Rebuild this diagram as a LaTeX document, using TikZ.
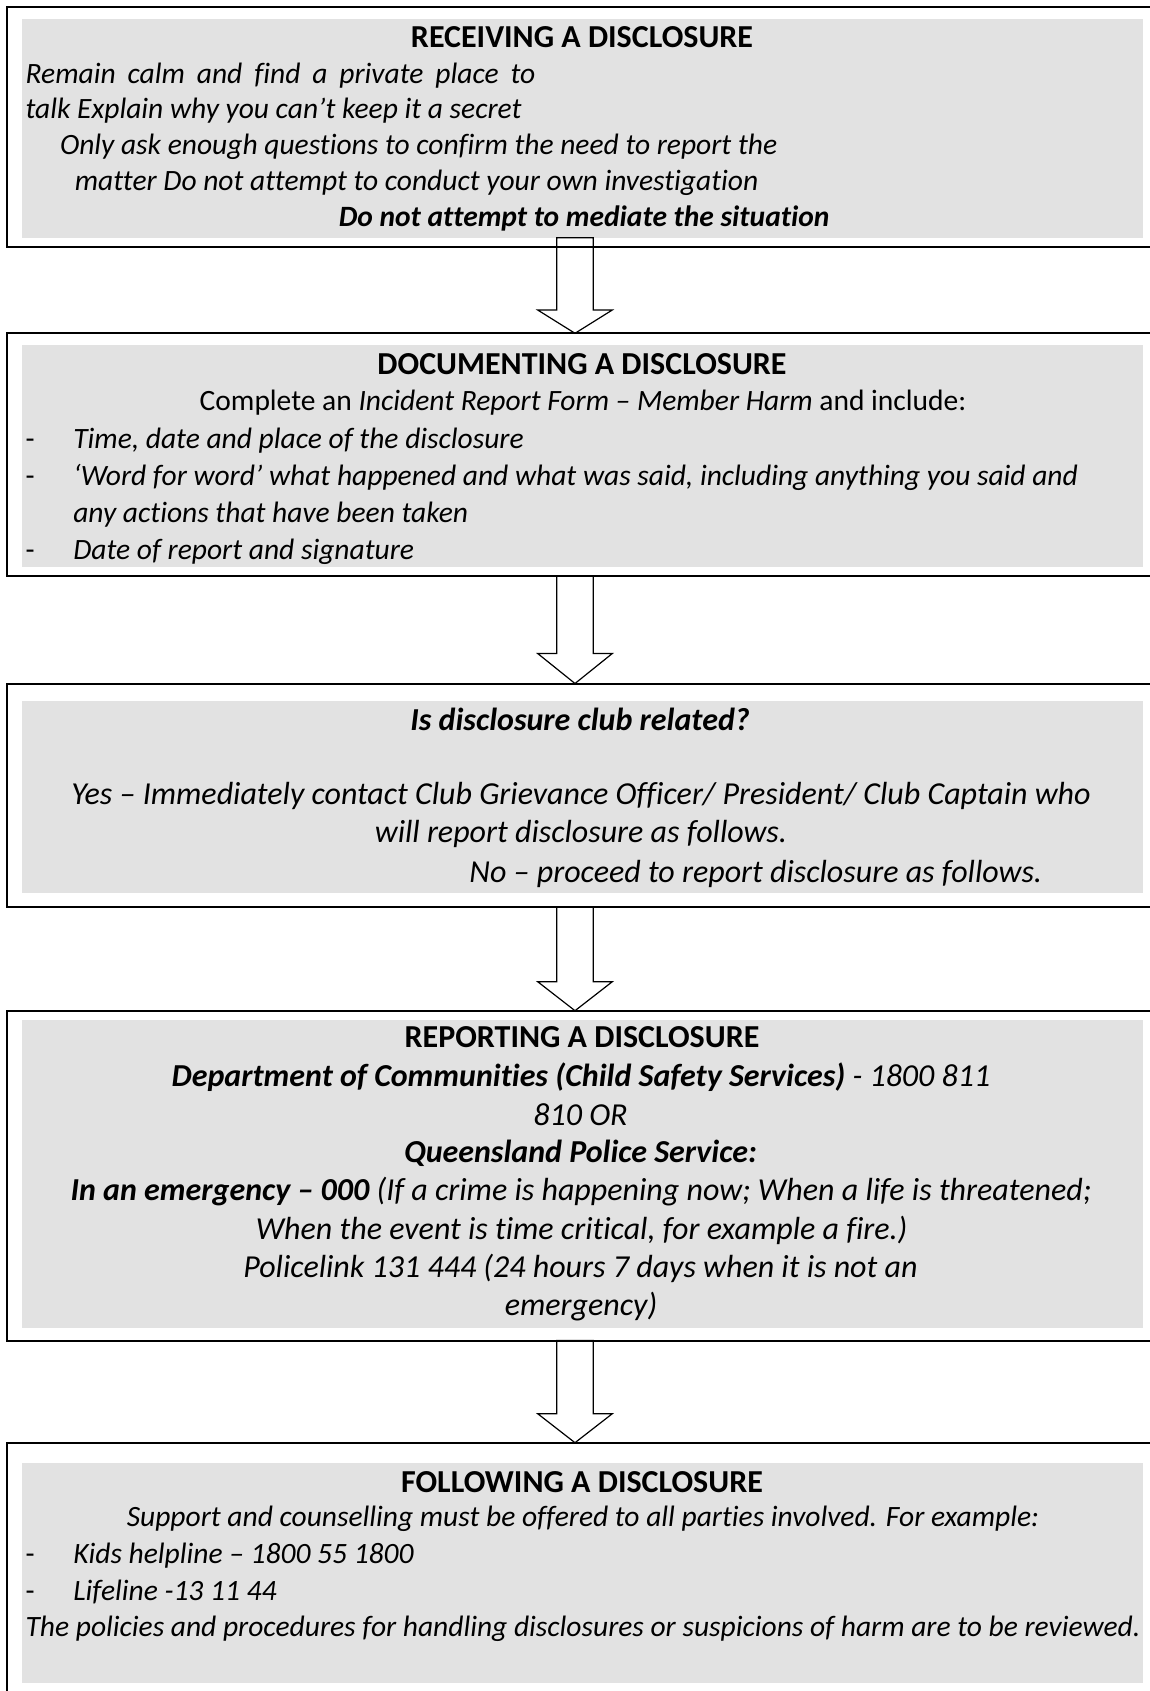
\documentclass[tikz,border=0pt]{standalone}
\usepackage{fontspec}
\setmainfont{Carlito}[Ligatures={TeX,CommonOff}]
\usetikzlibrary{calc}
\definecolor{boxgray}{RGB}{226,226,226}
\newcommand\blockarrow[3]{%
  \draw[blockarr] ($(#1 -| axis)+(-18.3,0)$) -- ($(#2 -| axis)+(-18.3,-#3)$)
    -- ($(#2 -| axis)+(-37.3,-#3)$) -- (#2 -| axis) -- ($(#2 -| axis)+(37.3,-#3)$)
    -- ($(#2 -| axis)+(18.3,-#3)$) -- ($(#1 -| axis)+(18.3,0)$) -- cycle;}
\begin{document}
\begin{tikzpicture}[x=1pt,y=-1pt,
  outerbox/.style={draw=black,line width=2pt,rectangle,inner sep=0pt,outer sep=0pt,anchor=north west,minimum width=1152.7pt},
  graybox/.style={fill=boxgray,draw=none,rectangle,inner sep=0pt,outer sep=0pt,anchor=north west,minimum width=1120.7pt},
  blockarr/.style={draw=black,line width=1.2pt,line join=miter},
  txt/.style={inner sep=0pt,outer sep=0pt,font=\fontsize{29.5}{36}\selectfont},
  bigtxt/.style={inner sep=0pt,outer sep=0pt,font=\fontsize{32}{38}\selectfont},
  ctr/.style={txt,anchor=base},
  lft/.style={txt,anchor=base west},
  bctr/.style={bigtxt,anchor=base},
  blft/.style={bigtxt,anchor=base west}]
\useasboundingbox (0,0) rectangle (1150,1691);
\clip (0,0) rectangle (1150,1691);
\fill[white] (0,0) rectangle (1150,1691);
\coordinate (axis) at (575,0);
% boxes
\node[graybox,minimum height=218.7pt] (g1) at (22,19) {};
\node[outerbox,minimum height=240pt] (b1) at (7.3,6.7) {};
\node[graybox,minimum height=221.7pt] (g2) at (22,345) {};
\node[outerbox,minimum height=242.4pt] (b2) at (7.3,333.3) {};
\node[graybox,minimum height=192pt] (g3) at (22,701) {};
\node[outerbox,minimum height=223.2pt] (b3) at (7.3,683.5) {};
\node[graybox,minimum height=308pt] (g4) at (22,1020) {};
\node[outerbox,minimum height=329.8pt] (b4) at (7.3,1010.7) {};
\node[graybox,minimum height=220.3pt] (g5) at (22,1463) {};
\node[outerbox,minimum height=270pt] (b5) at (7.3,1442.7) {};
% arrows
\blockarrow{g1.south}{b2.north}{23.3}
\blockarrow{b2.south}{b3.north}{30}
\blockarrow{b3.south}{b4.north}{29}
\blockarrow{b4.south}{b5.north}{29}
% box 1 text
\node[bctr] (t11) at (582,47.7) {\textbf{RECEIVING A DISCLOSURE}};
\node[lft] (t12) at (25.7,83.3) {\itshape\makebox[509.7pt][s]{Remain calm and find a private place to}};
\node[lft] (t13) at (25.7,118.3) {\itshape talk Explain why you can’t keep it a secret};
\node[lft] (t14) at (60,154.3) {\itshape Only ask enough questions to confirm the need to report the};
\node[lft] (t15) at (74.8,190) {\itshape matter Do not attempt to conduct your own investigation};
\node[lft] (t16) at (338.8,226.7) {\bfseries\itshape Do not attempt to mediate the situation};
% box 2 text
\node[bctr] (t21) at (582,374.3) {\textbf{DOCUMENTING A DISCLOSURE}};
\node[ctr] (t22) at (583,410.7) {Complete an \textit{Incident Report Form – Member Harm} and include:};
\node[lft] (d23) at (25.7,448.3) {-};
\node[lft] (t23) at (73.3,448.3) {\itshape Time, date and place of the disclosure};
\node[lft] (d24) at (25.7,485.7) {-};
\node[lft] (t24) at (73.3,485.7) {\itshape ‘Word for word’ what happened and what was said, including anything you said and};
\node[lft] (t25) at (73.3,522.3) {\itshape any actions that have been taken};
\node[lft] (d26) at (25.7,559.3) {-};
\node[lft] (t26) at (73.3,559.3) {\itshape Date of report and signature};
% box 3 text
\node[bctr] (t31) at (580,730.7) {\bfseries\itshape Is disclosure club related?};
\node[bctr] (t32) at (581,804.3) {\itshape Yes – Immediately contact Club Grievance Officer/ President/ Club Captain who};
\node[bctr] (t33) at (581,842.3) {\itshape will report disclosure as follows.};
\node[blft] (t34) at (469.4,882.7) {\itshape No – proceed to report disclosure as follows.};
% box 4 text
\node[bctr] (t41) at (582,1047.7) {\textbf{REPORTING A DISCLOSURE}};
\node[bctr] (t42) at (581,1086) {\itshape\textbf{Department of Communities (Child Safety Services)} - 1800 811};
\node[bctr] (t43) at (580.5,1125) {\itshape 810 OR};
\node[bctr] (t44) at (580.5,1162.7) {\bfseries\itshape Queensland Police Service:};
\node[bctr] (t45) at (581,1200) {\itshape\textbf{In an emergency – 000} (If a crime is happening now; When a life is threatened;};
\node[bctr] (t46) at (581.6,1239.3) {\itshape When the event is time critical, for example a fire.)};
\node[bctr] (t47) at (580.5,1277.7) {\itshape Policelink 131 444 (24 hours 7 days when it is not an};
\node[bctr] (t48) at (581,1315) {\itshape emergency)};
% box 5 text
\node[bctr] (t51) at (582,1492.3) {\textbf{FOLLOWING A DISCLOSURE}};
\node[ctr] (t52) at (583,1526.7) {\itshape Support and counselling must be offered to all parties involved. For example:};
\node[lft] (d53) at (25.7,1563.3) {-};
\node[lft] (t53) at (73.3,1563.3) {\itshape Kids helpline – 1800 55 1800};
\node[lft] (d54) at (25.7,1600) {-};
\node[lft] (t54) at (73.3,1600) {\itshape Lifeline -13 11 44};
\node[ctr] (t55) at (583,1636) {\itshape The policies and procedures for handling disclosures or suspicions of harm are to be reviewed.};
\end{tikzpicture}
\end{document}
